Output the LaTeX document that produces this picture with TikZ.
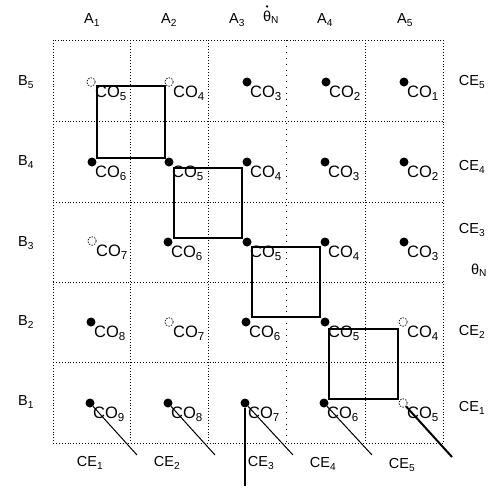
\documentclass[tikz,border=0pt]{standalone}
\usepackage{fontspec}
\setmainfont{Liberation Sans}
\usetikzlibrary{calc}

\tikzset{
	fdot/.style={circle,fill,inner sep=0pt,minimum size=9pt},
	odot/.style={circle,draw,dash pattern=on 1.5pt off 1.2pt,line width=0.7pt,inner sep=0pt,minimum size=8.5pt},
	colabel/.style={anchor=base west,inner sep=0pt,font=\fontsize{16.5}{16.5}\selectfont},
	axlabel/.style={inner sep=0pt,font=\fontsize{14.5}{14.5}\selectfont},
	gridline/.style={dotted,line width=0.9pt},
	sqline/.style={line width=1.2pt},
}

\begin{document}
\begin{tikzpicture}[x=1pt,y=-1pt]
						\useasboundingbox (0,0) rectangle (501,488);
						% grid
						\draw[gridline] (53,40) rectangle (443,443);
						\draw[gridline] (130,40) -- (130,443);
						\draw[gridline] (208,40) -- (208,443);
						\draw[line width=0.9pt,dash pattern=on 0.9pt off 5pt] (286,40) -- (286,443);
						\draw[gridline] (365,40) -- (365,443);
						\draw[gridline] (53,121) -- (443,121);
						\draw[gridline] (53,202) -- (443,202);
						\draw[gridline] (53,282) -- (443,282);
						\draw[gridline] (53,362) -- (443,362);

						% axes
						\path (92,20) node[axlabel] (a1) {A\textsubscript{1}};
						\path (169,20) node[axlabel] (a2) {A\textsubscript{2}};
						\path (237,20) node[axlabel] (a3) {A\textsubscript{3}};
						\path (271,17) node[axlabel] (thd) {θ\textsubscript{N}};
						\fill ($(thd.north west)+(4.2,-4)$) circle (1.3);
						\path (325,20) node[axlabel] (a4) {A\textsubscript{4}};
						\path (405,20) node[axlabel] (a5) {A\textsubscript{5}};
						\path (26,82) node[axlabel] (b5) {B\textsubscript{5}};
						\path (26,162) node[axlabel] (b4) {B\textsubscript{4}};
						\path (26,243) node[axlabel] (b3) {B\textsubscript{3}};
						\path (26,322) node[axlabel] (b2) {B\textsubscript{2}};
						\path (26,402) node[axlabel] (b1) {B\textsubscript{1}};

						% row B5
						\node[odot] (d15) at (91,82) {};
						\node[odot] (d25) at (169,82) {};
						\node[fdot] (d35) at (247,82) {};
						\node[fdot] (d45) at (326,82) {};
						\node[fdot] (d55) at (404,82) {};
						\path (d15) ++(4,15.5) node[colabel] (c15) {CO\textsubscript{5}};
						\path (d25) ++(4,15.5) node[colabel] (c25) {CO\textsubscript{4}};
						\path (d35) ++(3,15.5) node[colabel] (c35) {CO\textsubscript{3}};
						\path (d45) ++(3,15.5) node[colabel] (c45) {CO\textsubscript{2}};
						\path (d55) ++(3,15.5) node[colabel] (c55) {CO\textsubscript{1}};
						% row B4
						\node[fdot] (d14) at (92,162) {};
						\node[fdot] (d24) at (169,162) {};
						\node[fdot] (d34) at (247,162) {};
						\node[fdot] (d44) at (325,162) {};
						\node[fdot] (d54) at (404,162) {};
						\path (d14) ++(3,15.5) node[colabel] (c14) {CO\textsubscript{6}};
						\path (d24) ++(3,15.5) node[colabel] (c24) {CO\textsubscript{5}};
						\path (d34) ++(3,15.5) node[colabel] (c34) {CO\textsubscript{4}};
						\path (d44) ++(3,15.5) node[colabel] (c44) {CO\textsubscript{3}};
						\path (d54) ++(3,15.5) node[colabel] (c54) {CO\textsubscript{2}};
						% row B3
						\node[odot] (d13) at (92,241) {};
						\node[fdot] (d23) at (168,242) {};
						\node[fdot] (d33) at (247,242) {};
						\node[fdot] (d43) at (325,242) {};
						\node[fdot] (d53) at (404,242) {};
						\path (d13) ++(4,15.5) node[colabel] (c13) {CO\textsubscript{7}};
						\path (d23) ++(3,15.5) node[colabel] (c23) {CO\textsubscript{6}};
						\path (d33) ++(3,15.5) node[colabel] (c33) {CO\textsubscript{5}};
						\path (d43) ++(3,15.5) node[colabel] (c43) {CO\textsubscript{4}};
						\path (d53) ++(3,15.5) node[colabel] (c53) {CO\textsubscript{3}};
						% row B2
						\node[fdot] (d12) at (91,322) {};
						\node[odot] (d22) at (169,322) {};
						\node[fdot] (d32) at (246,322) {};
						\node[fdot] (d42) at (325,322) {};
						\node[odot] (d52) at (403,322) {};
						\path (d12) ++(3,15.5) node[colabel] (c12) {CO\textsubscript{8}};
						\path (d22) ++(4,15.5) node[colabel] (c22) {CO\textsubscript{7}};
						\path (d32) ++(3,15.5) node[colabel] (c32) {CO\textsubscript{6}};
						\path (d42) ++(3,15.5) node[colabel] (c42) {CO\textsubscript{5}};
						\path (d52) ++(4,15.5) node[colabel] (c52) {CO\textsubscript{4}};
						% row B1
						\node[fdot] (d11) at (90,403) {};
						\node[fdot] (d21) at (168,403) {};
						\node[fdot] (d31) at (245,403) {};
						\node[fdot] (d41) at (324,403) {};
						\node[odot] (d51) at (403,403) {};
						\path (d11) ++(3,15.5) node[colabel] (c11) {CO\textsubscript{9}};
						\path (d21) ++(3,15.5) node[colabel] (c21) {CO\textsubscript{8}};
						\path (d31) ++(3,15.5) node[colabel] (c31) {CO\textsubscript{7}};
						\path (d41) ++(3,15.5) node[colabel] (c41) {CO\textsubscript{6}};
						\path (d51) ++(4,15.5) node[colabel] (c51) {CO\textsubscript{5}};

						% squares
						\draw[sqline] ($(d15)+(6,4)$) rectangle ($(d24)+(-4,-4)$);
						\draw[sqline] ($(d24)+(5,6)$) rectangle ($(d33)+(-5,-4)$);
						\draw[sqline] ($(d33)+(5,5)$) rectangle ($(d42)+(-5,-5)$);
						\draw[sqline] ($(d42)+(4,7)$) rectangle ($(d51)+(-5,-4)$);

						% CE lines
						\coordinate (e1) at (137,455);
						\coordinate (e2) at (215,455);
						\coordinate (e3) at (293,455);
						\coordinate (e3v) at (245,486);
						\coordinate (e4) at (372,455);
						\coordinate (e5) at (452,457);
						\draw[line width=1pt] (d11) -- (e1);
						\draw[line width=1pt] (d21) -- (e2);
						\draw[line width=1pt] (d31) -- (e3);
						\draw[line width=1.3pt] (d31) -- (e3v);
						\draw[line width=1pt] (d41) -- (e4);
						\draw[line width=2pt] (d51) -- (e5);

						\path (90,463) node[axlabel] (ce1) {CE\textsubscript{1}};
						\path (167,463) node[axlabel] (ce2) {CE\textsubscript{2}};
						\path (261,463) node[axlabel] (ce3) {CE\textsubscript{3}};
						\path (323,464) node[axlabel] (ce4) {CE\textsubscript{4}};
						\path (402,465) node[axlabel] (ce5) {CE\textsubscript{5}};

						\path (472,82) node[axlabel] (re5) {CE\textsubscript{5}};
						\path (472,167) node[axlabel] (re4) {CE\textsubscript{4}};
						\path (472,230) node[axlabel] (re3) {CE\textsubscript{3}};
						\path (479,270) node[axlabel] (thn) {θ\textsubscript{N}};
						\path (472,332) node[axlabel] (re2) {CE\textsubscript{2}};
						\path (472,408) node[axlabel] (re1) {CE\textsubscript{1}};
					\end{tikzpicture}
\end{document}
